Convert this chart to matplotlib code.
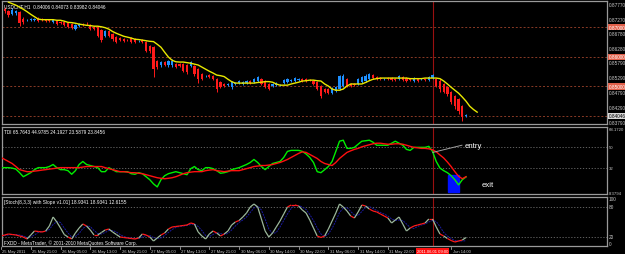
import numpy as np
import matplotlib.pyplot as plt
from matplotlib.patches import Rectangle
from matplotlib.collections import LineCollection
from matplotlib.transforms import blended_transform_factory

plt.rcParams['font.family'] = ['Liberation Sans', 'DejaVu Sans']

# USDCHF H1 candles, prices in 1e-4 units
opens = [8777, 8760, 8754, 8743, 8747, 8750, 8727, 8723, 8723, 8723,
         8730, 8727, 8723, 8723, 8716, 8720, 8716, 8716, 8713, 8710,
         8693, 8703, 8710, 8710, 8706, 8700, 8700, 8690, 8669, 8686,
         8676, 8666, 8663, 8659, 8656, 8663, 8659, 8652, 8656, 8649,
         8636, 8632, 8585, 8572, 8582, 8572, 8572, 8575, 8575, 8575,
         8572, 8568, 8568, 8558, 8541, 8535, 8538, 8535, 8524, 8514,
         8508, 8504, 8497, 8508, 8511, 8508, 8511, 8518, 8514, 8518,
         8524, 8518, 8508, 8501, 8504, 8504, 8511, 8514, 8518, 8518,
         8521, 8524, 8524, 8521, 8518, 8514, 8501, 8491, 8491, 8477,
         8484, 8491, 8501, 8524, 8508, 8508, 8508, 8514, 8518, 8524,
         8538, 8531, 8528, 8524, 8528, 8528, 8524, 8524, 8531, 8528,
         8524, 8518, 8524, 8524, 8524, 8521, 8528, 8524, 8518, 8508,
         8497, 8481, 8467, 8457, 8433, 8401]
closes = [8760, 8754, 8740, 8757, 8754, 8713, 8716, 8724, 8727, 8727,
          8720, 8723, 8720, 8720, 8723, 8710, 8713, 8706, 8700, 8696,
          8706, 8710, 8706, 8709, 8693, 8693, 8669, 8656, 8686, 8669,
          8659, 8649, 8656, 8652, 8655, 8649, 8649, 8653, 8649, 8619,
          8619, 8558, 8565, 8582, 8572, 8585, 8585, 8565, 8568, 8551,
          8548, 8582, 8541, 8524, 8524, 8536, 8531, 8524, 8491, 8497,
          8501, 8508, 8514, 8511, 8518, 8514, 8518, 8511, 8524, 8531,
          8508, 8497, 8491, 8508, 8511, 8505, 8521, 8524, 8521, 8528,
          8524, 8518, 8518, 8520, 8508, 8491, 8467, 8481, 8477, 8494,
          8497, 8535, 8535, 8501, 8501, 8504, 8524, 8531, 8535, 8541,
          8528, 8524, 8524, 8525, 8524, 8521, 8521, 8535, 8521, 8518,
          8521, 8528, 8518, 8525, 8521, 8531, 8538, 8501, 8491, 8481,
          8474, 8447, 8433, 8417, 8396, 8405]
highs = [8784, 8767, 8757, 8764, 8757, 8754, 8733, 8727, 8730, 8730,
         8733, 8730, 8727, 8727, 8727, 8723, 8720, 8720, 8716, 8713,
         8710, 8713, 8713, 8716, 8710, 8703, 8703, 8693, 8690, 8690,
         8679, 8669, 8666, 8663, 8659, 8666, 8663, 8656, 8659, 8652,
         8639, 8636, 8588, 8585, 8585, 8588, 8592, 8578, 8578, 8578,
         8575, 8585, 8572, 8561, 8545, 8538, 8541, 8538, 8528, 8518,
         8511, 8511, 8518, 8514, 8521, 8518, 8521, 8521, 8528, 8535,
         8528, 8521, 8511, 8511, 8514, 8508, 8524, 8528, 8524, 8531,
         8528, 8528, 8528, 8524, 8521, 8518, 8504, 8494, 8494, 8497,
         8501, 8538, 8541, 8528, 8511, 8511, 8528, 8535, 8541, 8545,
         8541, 8535, 8531, 8528, 8531, 8531, 8528, 8538, 8535, 8531,
         8528, 8531, 8528, 8528, 8528, 8535, 8541, 8528, 8524, 8511,
         8501, 8484, 8470, 8460, 8437, 8407]
lows = [8754, 8747, 8733, 8740, 8740, 8703, 8710, 8720, 8720, 8720,
        8716, 8720, 8716, 8716, 8713, 8706, 8710, 8703, 8696, 8693,
        8690, 8700, 8703, 8706, 8690, 8690, 8666, 8649, 8666, 8666,
        8652, 8646, 8652, 8649, 8652, 8646, 8646, 8649, 8646, 8615,
        8612, 8531, 8558, 8565, 8568, 8565, 8565, 8561, 8565, 8548,
        8541, 8565, 8535, 8511, 8521, 8531, 8528, 8521, 8481, 8494,
        8497, 8501, 8491, 8504, 8508, 8504, 8508, 8508, 8511, 8514,
        8504, 8494, 8487, 8497, 8501, 8501, 8508, 8511, 8514, 8514,
        8518, 8514, 8514, 8518, 8504, 8487, 8460, 8477, 8474, 8474,
        8481, 8487, 8497, 8497, 8497, 8501, 8504, 8511, 8514, 8521,
        8524, 8521, 8521, 8521, 8521, 8518, 8518, 8521, 8518, 8514,
        8518, 8514, 8514, 8521, 8518, 8518, 8524, 8497, 8481, 8477,
        8467, 8440, 8423, 8406, 8383, 8398]

# shifted moving average (yellow), first value sits on bar 2
ma_start = 2
ma_line = [8784, 8779, 8774, 8767, 8760, 8752, 8743, 8735, 8727, 8725,
           8725, 8725, 8725, 8723, 8723, 8720, 8716, 8715, 8713, 8710,
           8708, 8706, 8705, 8703, 8703, 8701, 8698, 8693, 8685, 8679,
           8674, 8669, 8666, 8663, 8659, 8658, 8656, 8654, 8652, 8651,
           8642, 8632, 8615, 8599, 8588, 8583, 8582, 8582, 8580, 8578,
           8575, 8572, 8565, 8558, 8551, 8545, 8538, 8536, 8533, 8524,
           8516, 8511, 8511, 8511, 8511, 8511, 8511, 8513, 8514, 8516,
           8516, 8514, 8508, 8504, 8504, 8504, 8508, 8511, 8514, 8518,
           8519, 8521, 8521, 8519, 8518, 8508, 8501, 8491, 8487, 8487,
           8491, 8501, 8508, 8508, 8508, 8508, 8513, 8519, 8524, 8526,
           8528, 8528, 8528, 8528, 8528, 8528, 8528, 8528, 8526, 8526,
           8526, 8526, 8528, 8528, 8528, 8528, 8526, 8518, 8508, 8497,
           8487, 8477, 8464, 8450, 8433, 8422, 8413]

# TDI window
tdi_green = [31.9, 31.9, 31.9, 31.5, 30.6, 27.4, 23.8, 25.6, 27.4, 30.1,
             31.9, 31.9, 31.9, 32.9, 34.7, 31.9, 30.1, 30.1, 29.2, 26.0,
             29.2, 34.7, 37.4, 34.7, 33.8, 32.9, 31.9, 28.3, 28.3, 31.9,
             30.1, 28.3, 28.3, 28.3, 28.3, 26.5, 26.0, 27.4, 26.5, 23.8,
             21.1, 17.4, 14.7, 21.1, 24.7, 26.5, 27.4, 28.3, 27.4, 26.5,
             25.6, 31.0, 32.9, 30.1, 29.2, 31.9, 31.9, 31.0, 29.2, 26.9,
             27.4, 28.3, 30.1, 31.0, 31.9, 33.3, 34.7, 36.5, 39.2, 36.5,
             32.9, 30.1, 32.9, 35.6, 36.5, 37.4, 41.0, 46.4, 47.3, 47.3,
             47.3, 46.4, 44.1, 41.0, 36.5, 28.3, 27.4, 30.1, 32.9, 37.4,
             46.4, 55.5, 56.4, 49.1, 49.1, 50.0, 52.8, 55.5, 55.9, 56.4,
             54.6, 51.9, 51.9, 51.9, 51.9, 53.7, 55.5, 53.7, 51.9, 48.2,
             47.3, 50.0, 50.0, 50.0, 50.0, 50.9, 46.4, 37.4, 31.5, 29.2,
             27.4, 24.7, 21.1, 16.5, 21.1, 23.59]
tdi_red = [41.0, 39.2, 37.4, 35.6, 32.9, 30.1, 29.2, 28.3, 28.3, 28.8,
           29.2, 29.7, 30.1, 30.6, 31.0, 31.5, 31.9, 31.9, 31.9, 31.9,
           31.9, 31.9, 32.4, 32.9, 32.9, 32.9, 32.9, 32.9, 31.9, 31.0,
           30.1, 29.2, 28.3, 28.3, 27.9, 27.4, 27.4, 26.9, 26.5, 25.6,
           24.7, 23.8, 22.9, 22.4, 22.0, 22.4, 22.9, 23.8, 25.1, 26.5,
           27.4, 27.9, 28.3, 28.3, 28.3, 29.2, 29.7, 30.1, 29.2, 28.8,
           28.3, 28.8, 29.2, 29.2, 29.2, 30.1, 31.0, 31.9, 32.9, 33.3,
           33.8, 33.8, 34.2, 34.7, 35.6, 36.5, 37.8, 39.2, 41.0, 42.8,
           44.6, 46.0, 45.5, 43.7, 41.9, 40.1, 37.4, 35.6, 34.7, 33.8,
           36.5, 40.1, 42.8, 45.5, 46.9, 48.2, 49.1, 50.5, 51.4, 52.3,
           53.2, 53.7, 53.7, 53.2, 52.8, 52.8, 53.2, 53.2, 52.8, 51.9,
           50.9, 50.0, 49.6, 49.1, 49.1, 48.7, 47.8, 46.0, 43.2, 40.5,
           36.9, 32.9, 28.3, 24.2, 22.0, 23.85]

# Stochastic window
stoch_main = [22, 24, 26, 25, 24, 22, 20, 16, 24, 32,
              31, 30, 32, 42, 60, 50, 38, 25, 20, 16,
              28, 38, 46, 42, 34, 24, 24, 29, 34, 36,
              30, 25, 20, 19, 18, 17, 16, 18, 26, 24,
              20, 12, 18, 24, 28, 36, 40, 41, 42, 43,
              44, 48, 46, 30, 22, 16, 26, 32, 28, 22,
              26, 32, 44, 50, 53, 60, 68, 80, 86, 80,
              56, 32, 20, 28, 40, 52, 66, 80, 84, 84,
              82, 74, 68, 54, 38, 22, 19, 22, 36, 52,
              68, 86, 80, 72, 62, 58, 70, 84, 82, 76,
              72, 70, 66, 62, 58, 48, 54, 60, 46, 32,
              38, 42, 44, 46, 48, 56, 56, 40, 26, 22,
              17, 13, 10, 12, 14, 18.9]
stoch_signal = [23, 23, 24, 25, 25, 24, 22, 19, 20, 24,
                29, 31, 31, 35, 45, 51, 49, 38, 28, 20,
                21, 27, 37, 42, 41, 33, 27, 26, 29, 33,
                33, 30, 25, 21, 19, 18, 17, 17, 20, 23,
                23, 19, 17, 18, 23, 29, 35, 39, 41, 42,
                43, 45, 46, 41, 33, 23, 21, 25, 29, 27,
                25, 27, 34, 42, 49, 54, 60, 69, 78, 82,
                74, 56, 36, 27, 29, 40, 53, 66, 77, 83,
                83, 80, 75, 65, 53, 38, 26, 21, 26, 37,
                52, 69, 78, 79, 71, 64, 63, 71, 79, 81,
                77, 73, 69, 66, 62, 56, 53, 54, 53, 46,
                39, 37, 41, 44, 46, 50, 53, 51, 41, 29,
                22, 17, 13, 12, 12, 12.6]

price_ticks = [0.87770, 0.87270, 0.86780, 0.86280, 0.85790,
               0.85290, 0.84790, 0.84290, 0.83790]
price_levels = [0.87000, 0.86000, 0.85000]
last_price = 0.84046

time_bars = [0, 8, 16, 24, 32, 40, 48, 56, 64, 72, 80, 88, 96, 104, 121]
time_labels = ['25 May 2011', '25 May 21:00', '26 May 05:00', '26 May 13:00',
               '26 May 21:00', '27 May 05:00', '27 May 13:00', '27 May 21:00',
               '30 May 06:00', '30 May 14:00', '30 May 22:00', '31 May 06:00',
               '31 May 14:00', '31 May 22:00', 'Jun 14:00']
marker_bar = 116
marker_label = '2011.06.01 09:00'

BG = 'black'
FG = '#c8c8c8'
GRID = '#6e6e6e'
FS = 3.4

fig = plt.figure(figsize=(6.25, 2.55), dpi=100, facecolor=BG)
W, H = 625, 255
ax1 = fig.add_axes([2 / W, 1 - 125 / H, 605 / W, 123 / H])
ax2 = fig.add_axes([2 / W, 1 - 195 / H, 605 / W, 67 / H])
ax3 = fig.add_axes([2 / W, 1 - 247 / H, 605 / W, 49 / H])

for ax in (ax1, ax2, ax3):
    ax.set_facecolor(BG)
    ax.set_xlim(0.27, 162.9)
    ax.set_xticks([])
    ax.set_yticks([])
    for s in ax.spines.values():
        s.set_color('#9a9a9a')
        s.set_linewidth(0.9)
    ax.axvline(marker_bar, color='#9a1010', lw=0.8, zorder=1)

# ---- main price window
o = np.array(opens) / 1e4
c = np.array(closes) / 1e4
h = np.array(highs) / 1e4
l = np.array(lows) / 1e4
x = np.arange(len(o))
up = c >= o
col = np.where(up, '#1e90ff', '#ff1a1a')
ax1.vlines(x, l, h, colors=col, lw=0.7, zorder=3)
body = np.maximum(np.abs(c - o), 0.00003)
ax1.bar(x, body, bottom=np.minimum(o, c), width=0.6, color=col,
        linewidth=0, zorder=4)

ma = np.array(ma_line) / 1e4
ax1.plot(np.arange(len(ma)) + ma_start, ma, color='#e8e800', lw=1.0, zorder=5)

ax1.set_ylim(0.8373, 0.8788)
for lv in price_levels + [0.84]:
    ax1.axhline(lv, color='#8a3a26', lw=0.7, ls=(0, (2, 2)), zorder=1)

ytr = blended_transform_factory(ax1.transAxes, ax1.transData)
for p in price_ticks:
    ax1.text(1.003, p, f'{p:.5f}', transform=ytr, color=FG, fontsize=FS,
             va='center', ha='left', clip_on=False)
for p in price_levels:
    ax1.text(1.003, p, f'{p:.5f}', transform=ytr, color='white', fontsize=FS,
             va='center', ha='left', clip_on=False,
             bbox=dict(boxstyle='square,pad=0.15', fc='#e0604a', ec='none'))
ax1.text(1.003, 0.8400, f'{last_price:.5f}', transform=ytr, color='black',
         fontsize=FS, va='center', ha='left', clip_on=False,
         bbox=dict(boxstyle='square,pad=0.15', fc='#d8d8d8', ec='none'))

ax1.text(0.004, 0.985, 'USDCHF,H1  0.84006 0.84073 0.83982 0.84046',
         transform=ax1.transAxes, color='white', fontsize=FS, va='top')

# ---- TDI window
ax2.set_ylim(8.3794, 68.1720)
for lv in (50, 32):
    ax2.axhline(lv, color=GRID, lw=0.6, ls=(0, (1.5, 2)), zorder=1)
ax2.add_patch(Rectangle((120.2, 10.2), 2.9, 15.4, color='#0010ff', zorder=2))
ax2.plot(np.arange(len(tdi_green)), tdi_green, color='#00ee00', lw=1.0, zorder=4)
ax2.plot(np.arange(len(tdi_red)), tdi_red, color='#ff1010', lw=1.0, zorder=5)
ax2.plot([116.1, 123.9], [45.5, 51.9], color='#a0a0a0', lw=0.7, zorder=6)
ax2.text(124.5, 51.9, 'entry', color='white', fontsize=5.6, va='center')
ax2.text(129.2, 16.5, 'exit', color='white', fontsize=5.6, va='center')
ax2.text(0.004, 0.97, 'TDI 65.7643 44.9785 24.1927 23.5879 23.8456',
         transform=ax2.transAxes, color='white', fontsize=FS, va='top')
ytr2 = blended_transform_factory(ax2.transAxes, ax2.transData)
for v, s in ((66.8, '68.1720'), (50, '50'), (32, '32'), (9.6, '8.3794')):
    ax2.text(1.003, v, s, transform=ytr2, color=FG, fontsize=3.1,
             va='center', ha='left', clip_on=False)

# ---- Stochastic window
ax3.set_ylim(2, 100)
for lv in (80, 20):
    ax3.axhline(lv, color=GRID, lw=0.6, ls=(0, (1.5, 2)), zorder=1)
ax3.plot(np.arange(len(stoch_signal)), stoch_signal, color='#1a1aa0', lw=0.7,
         ls=(0, (2, 1)), zorder=3)
sm = np.array(stoch_main, dtype=float)
xs = np.arange(len(sm))
segs = np.stack([np.column_stack([xs[:-1], sm[:-1]]),
                 np.column_stack([xs[1:], sm[1:]])], axis=1)
seg_col = np.where(np.abs(np.diff(sm)) <= 4, '#ff1a1a', '#9cb89c')
ax3.add_collection(LineCollection(segs, colors=seg_col, lw=0.9, zorder=4))
ax3.text(0.004, 0.95, '[Stoch(8,3,3) with Slope v1.01] 18.9341 18.9341 12.6155',
         transform=ax3.transAxes, color='white', fontsize=FS, va='top')
ax3.text(0.004, 0.03, 'FXDD - MetaTrader, \u00a9 2001-2010 MetaQuotes Software Corp.',
         transform=ax3.transAxes, color='white', fontsize=FS, va='bottom')
ytr3 = blended_transform_factory(ax3.transAxes, ax3.transData)
for v, s in ((97, '100'), (80, '80'), (20, '20'), (6, '0')):
    ax3.text(1.003, v, s, transform=ytr3, color=FG, fontsize=FS,
             va='center', ha='left', clip_on=False)

# time axis
xtr = blended_transform_factory(ax3.transData, ax3.transAxes)
for xb, lab in zip(time_bars, time_labels):
    ax3.plot([xb, xb], [-0.02, -0.07], transform=xtr, color=FG, lw=0.5,
             clip_on=False)
    ax3.text(xb + 0.4, -0.06, lab, transform=xtr, color=FG, fontsize=3.0,
             va='top', ha='left', clip_on=False)
ax3.text(marker_bar, -0.06, marker_label, transform=xtr, color='white',
         fontsize=3.0, va='top', ha='center', clip_on=False, zorder=10,
         bbox=dict(boxstyle='square,pad=0.2', fc='#ff1010', ec='none'))

fig.savefig('out.png', dpi=100, facecolor=BG)
